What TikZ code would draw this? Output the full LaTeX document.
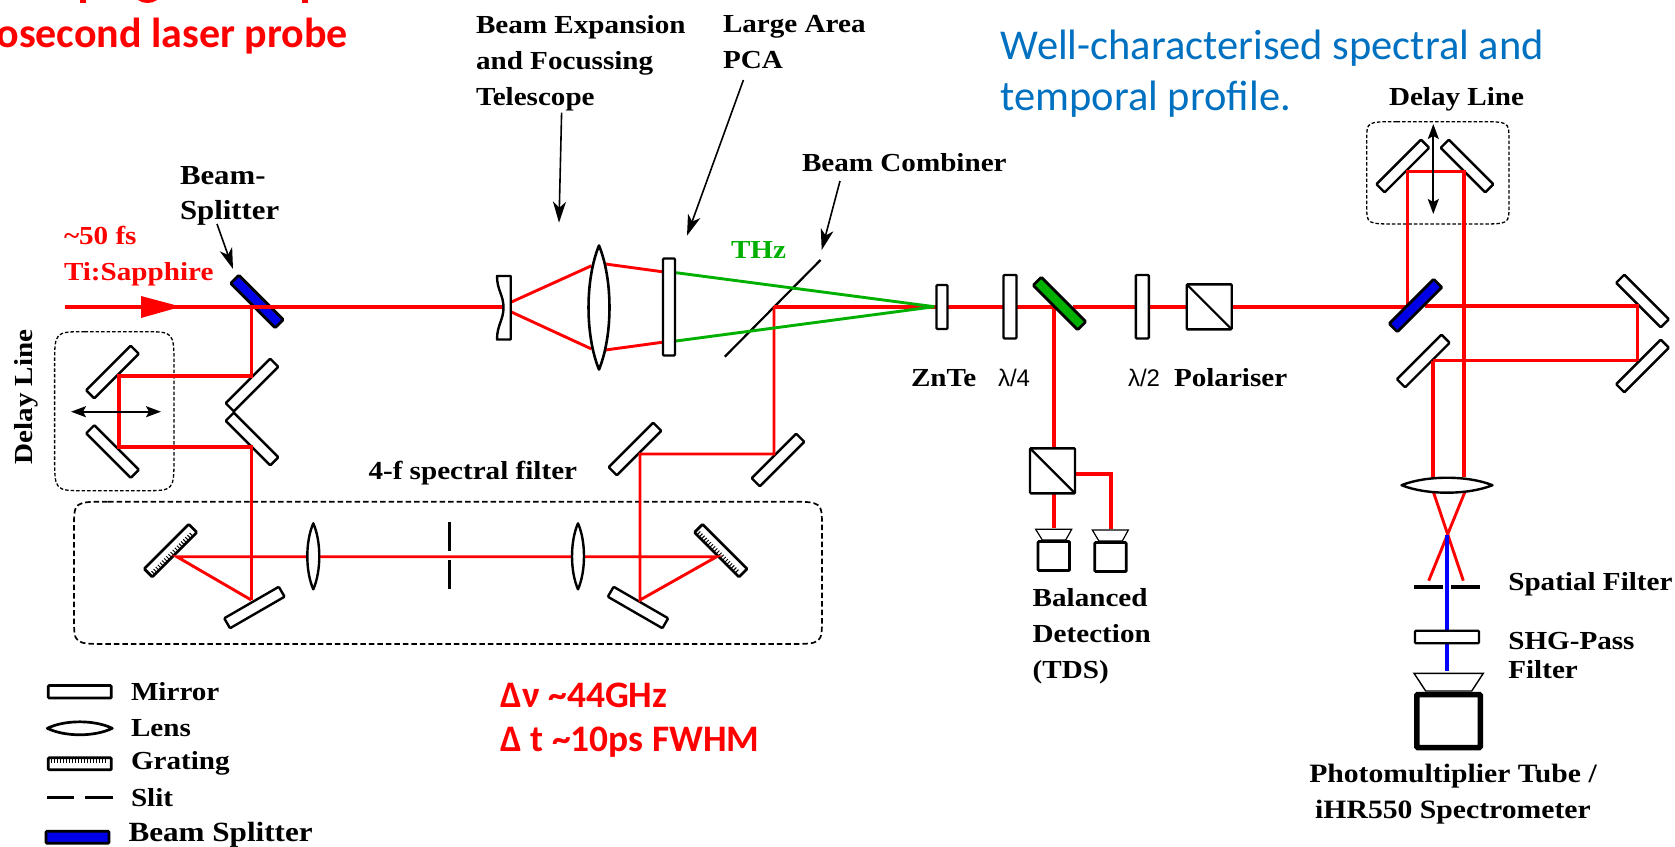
\documentclass[tikz,border=0pt]{standalone}
\usepackage{fontspec}
\usetikzlibrary{arrows.meta}
\newfontfamily\serifstretch[FakeStretch=1.12]{Liberation Serif}
\newfontfamily\carlitofam{Carlito}
\newfontfamily\arialfam{Liberation Sans}
\definecolor{beamred}{RGB}{255,0,0}
\definecolor{thzgreen}{RGB}{0,176,0}
\definecolor{bsblue}{RGB}{0,0,230}
\definecolor{noteblue}{RGB}{0,112,192}
\pgfdeclarelayer{under}
\pgfdeclarelayer{beamlayer}
\pgfsetlayers{under,beamlayer,main}
\newcommand{\lensv}[5][line width=2.4pt]{\draw[#1,fill=white,line join=round] (#2,{#3-#5}) .. controls ({#2+1.33*#4},{#3-0.45*#5}) and ({#2+1.33*#4},{#3+0.45*#5}) .. (#2,{#3+#5}) .. controls ({#2-1.33*#4},{#3+0.45*#5}) and ({#2-1.33*#4},{#3-0.45*#5}) .. cycle;}
\newcommand{\lensh}[5][line width=2.4pt]{\draw[#1,fill=white,line join=round] ({#2-#4},#3) .. controls ({#2-0.45*#4},{#3-1.33*#5}) and ({#2+0.45*#4},{#3-1.33*#5}) .. ({#2+#4},#3) .. controls ({#2+0.45*#4},{#3+1.33*#5}) and ({#2-0.45*#4},{#3+1.33*#5}) .. cycle;}
\newcommand{\softbox}[7][]{\draw[#1] ({#2+#6},#3) -- ({#4-#6},#3) .. controls (#4,#3) .. (#4,{#3+#7}) -- (#4,{#5-#7}) .. controls (#4,#5) .. ({#4-#6},#5) -- ({#2+#6},#5) .. controls (#2,#5) .. (#2,{#5-#7}) -- (#2,{#3+#7}) .. controls (#2,#3) .. cycle;}
\newcommand{\gticks}[3]{\begin{scope}[shift={(#1.center)},rotate=#2]
\foreach \t in {-28,-25,...,28} \draw[line width=1pt] (\t,{#3*5}) -- (\t,{#3*1});
\end{scope}}
\tikzset{
  mirror/.style={draw,line width=2.4pt,fill=white,rounded corners=1pt,inner sep=0pt,outer sep=0pt,minimum width=63pt,minimum height=11.5pt},
  plate/.style={draw,line width=2.4pt,fill=white,rounded corners=1pt,inner sep=0pt,outer sep=0pt},
  beam/.style={draw=beamred,line width=3.6pt,line join=miter},
  thinbeam/.style={draw=beamred,line width=2.9pt,line join=miter},
  thzbeam/.style={draw=thzgreen,line width=2.9pt},
  labtext/.style={inner sep=0pt,outer sep=0pt,anchor=base west,align=left,font=\serifstretch\fontsize{26}{36}\selectfont\bfseries},
  waveplate/.style={inner sep=0pt,outer sep=0pt,anchor=base west,font=\arialfam\fontsize{24}{26}\selectfont},
  notered/.style={inner sep=0pt,outer sep=0pt,anchor=base west,align=left,text=beamred,font=\carlitofam\fontsize{37.4}{44}\selectfont\bfseries},
  pointer/.style={line width=1.6pt,-{Stealth[length=21pt,width=13pt,inset=6pt]}},
  move/.style={line width=1.7pt,{Stealth[length=15pt,width=11pt,inset=3pt]}-{Stealth[length=15pt,width=11pt,inset=3pt]}},
}
\begin{document}
\begin{tikzpicture}[x=1pt,y=-1pt]
\useasboundingbox (0,0) rectangle (1675,846);

% ---- reflective optics and enclosures (beams are drawn over them)
\begin{pgfonlayer}{under}
\softbox[line width=1.3pt,dash pattern=on 3.5pt off 2pt]{54.6}{331.7}{174}{490.7}{30}{34}
\softbox[line width=1.3pt,dash pattern=on 3.5pt off 2pt]{1366.7}{121.7}{1509}{224}{30}{18}
\softbox[line width=1.7pt,dash pattern=on 5.5pt off 3pt]{74}{501.7}{822}{644}{34}{26}
\node[mirror,fill=bsblue,line width=2.7pt] (bsA) at (257,301.5) [rotate=-45] {};
\node[mirror] (dlA) at (112.5,372) [rotate=45] {};
\node[mirror] (dlB) at (112.5,451.5) [rotate=-45] {};
\node[mirror] (foldA) at (252,385) [rotate=45] {};
\node[mirror] (foldB) at (252,439) [rotate=-45] {};
\node[mirror,line width=2.7pt] (grA) at (170.5,550.6) [rotate=45] {};
\node[mirror,line width=2.7pt] (grB) at (720.8,550.6) [rotate=-45] {};
\gticks{grA}{45}{1}
\gticks{grB}{-45}{1}
\node[mirror] (mA) at (254.4,607.5) [rotate=30] {};
\node[mirror] (mB) at (638,607.5) [rotate=-30] {};
\node[mirror] (mC) at (635,449) [rotate=45] {};
\node[mirror] (mD) at (778,460) [rotate=45] {};
\node[mirror] (dlC) at (1402.8,166) [rotate=45] {};
\node[mirror] (dlD) at (1467,166) [rotate=-45] {};
\node[mirror] (foldC) at (1642.5,301) [rotate=-45] {};
\node[mirror] (foldD) at (1642.5,366) [rotate=45] {};
\node[mirror] (foldE) at (1423.3,361) [rotate=45] {};
\coordinate (combA) at (724.8,356.7);
\coordinate (combB) at (820.5,260);
\draw[line width=2.2pt] (combA) -- (combB);
\end{pgfonlayer}

% ---- named beam points
\coordinate (start) at (65,306.7);
\coordinate (hA) at (251.3,306.7);
\coordinate (hB) at (251.3,375.7);
\coordinate (hC) at (119,375.7);
\coordinate (hD) at (119,446.7);
\coordinate (hE) at (251.3,446.7);
\coordinate (hF) at (251.3,600);
\coordinate (hG) at (176.8,556.7);
\coordinate (hH) at (716.7,556.7);
\coordinate (hI) at (640,600);
\coordinate (hJ) at (640,454);
\coordinate (hK) at (774,454);
\coordinate (hL) at (774,306.7);
\coordinate (hM) at (1054,306.7);
\coordinate (hN) at (1054,447);
\coordinate (hO) at (1054,494);
\coordinate (hP) at (1054,527.7);
\coordinate (hQ) at (1076,473.7);
\coordinate (hR) at (1111,473.7);
\coordinate (hS) at (1111,528.7);
\coordinate (hT) at (1073,306.7);
\coordinate (hU) at (1407.3,306.7);
\coordinate (hV) at (1407.3,171.3);
\coordinate (hW) at (1464,171.3);
\coordinate (hX) at (1464,476.7);
\coordinate (hY) at (1425,306.2);
\coordinate (hZ) at (1637.3,306.2);
\coordinate (iA) at (1637.3,360.7);
\coordinate (iB) at (1432.7,360.7);
\coordinate (iC) at (1432.7,478);
\coordinate (iD) at (1433.3,491.7);
\coordinate (iE) at (1463.3,580.7);
\coordinate (iF) at (1465,491.7);
\coordinate (iG) at (1428.7,580.7);
\coordinate (iH) at (1447,535);
\coordinate (iI) at (1447,670.7);

\begin{pgfonlayer}{beamlayer}
\draw[beam] (start) -- (503,306.7);
\draw[beam] (hA) -- (hB) -- (hC) -- (hD) -- (hE) -- (hF);
\draw[thinbeam] (hF) -- (hG) -- (hH) -- (hI) -- (hJ) -- (hK) -- (hL);
\draw[beam] (hL) -- (936,306.7);
\draw[beam] (936,306.7) -- (hM) -- (hN);
\draw[beam] (hO) -- (hP);
\draw[beam] (hQ) -- (hR) -- (hS);
\draw[beam] (hT) -- (hU) -- (hV) -- (hW) -- (hX);
\draw[beam] (hY) -- (hZ) -- (iA);
\draw[thinbeam] (iA) -- (iB);
\draw[beam] (iB) -- (iC);
\draw[thinbeam] (iD) -- (iE);
\draw[thinbeam] (iF) -- (iG);
\draw[draw=blue,line width=3.6pt] (iH) -- (iI);
\draw[thinbeam] (511.4,302) -- (591.6,265.7);
\draw[thinbeam] (511.4,312) -- (591.6,349);
\draw[thinbeam] (605.5,264) -- (662,271.7);
\draw[thinbeam] (605.5,350) -- (662,342.3);
\draw[thzbeam] (676,272.7) -- (934.3,306.7);
\draw[thzbeam] (676,341) -- (934.3,306.7);
\fill[beamred] (141,296) -- (181,306.7) -- (141,318) -- cycle;
\end{pgfonlayer}

% ---- transmissive and beam-splitting optics (over the beams)
\draw[line width=2.4pt,fill=white,line join=round] (497,276) -- (510.7,276) -- (510.7,339.5) -- (497,339.5) .. controls (497,325) and (503.5,320) .. (503.5,307.5) .. controls (503.5,295) and (497,290) .. (497,276) -- cycle;
\lensv[line width=2.6pt]{599}{307.5}{10.5}{62}
\node[plate,minimum width=12pt,minimum height=97pt] (pca) at (669,307) {};
\node[plate,minimum width=11pt,minimum height=44pt] (znte) at (942,307) {};
\node[plate,minimum width=13pt,minimum height=63.5pt] (qwp) at (1010,306.7) {};
\node[plate,minimum width=13pt,minimum height=63.5pt] (hwp) at (1142.3,306.7) {};
\node[mirror,fill=thzgreen,line width=2.7pt] (bsB) at (1059.5,303.5) [rotate=-45] {};
\node[mirror,fill=bsblue,line width=2.7pt] (bsC) at (1415.5,305.5) [rotate=45] {};
\node[plate,minimum width=45pt,minimum height=45pt] (polA) at (1209.2,306.8) {};
\draw[line width=2.2pt] (polA.north west) -- (polA.south east);
\node[plate,minimum width=45pt,minimum height=45pt] (polB) at (1052.5,470.8) {};
\draw[line width=2.2pt] (polB.north west) -- (polB.south east);
\lensv{313.3}{556.3}{6}{33}
\lensv{578}{556.3}{6}{33}
\lensh{1447}{485.2}{45.5}{7.5}
\coordinate (sA) at (449,522); \coordinate (sB) at (449,550.7);
\coordinate (sC) at (449,560); \coordinate (sD) at (449,589);
\draw[line width=3pt] (sA) -- (sB) (sC) -- (sD);

% ---- balanced detectors
\draw[line width=1.2pt,fill=white] (1035.7,529.3) -- (1071.7,529.3) -- (1065.7,540) -- (1042.3,540) -- cycle;
\node[plate,line width=2.8pt,minimum width=31.5pt,minimum height=29pt] (detA) at (1053.8,556) {};
\draw[line width=1.2pt,fill=white] (1092.3,530) -- (1128.3,530) -- (1122.3,541) -- (1098.9,541) -- cycle;
\node[plate,line width=2.8pt,minimum width=31.5pt,minimum height=29pt] (detB) at (1110.5,557) {};

% ---- spectrometer arm
\coordinate (fA) at (1414,587); \coordinate (fB) at (1442.7,587);
\coordinate (fC) at (1451,587); \coordinate (fD) at (1480,587);
\draw[line width=3.5pt] (fA) -- (fB) (fC) -- (fD);
\node[plate,minimum width=64pt,minimum height=12.5pt] (shg) at (1447,637) {};
\draw[line width=1.4pt,fill=white] (1414,673.3) -- (1483.3,673.3) -- (1471.7,691) -- (1425.7,691) -- cycle;
\node[plate,line width=5.5pt,minimum width=63.5pt,minimum height=53pt] (pmt) at (1448.5,721) {};

% ---- pointers and motion arrows
\coordinate (pA) at (217,224); \coordinate (pB) at (233,269);
\draw[pointer] (pA) -- (pB);
\coordinate (pC) at (561.6,112.7); \coordinate (pD) at (559,222.7);
\draw[pointer] (pC) -- (pD);
\coordinate (pE) at (743.4,80); \coordinate (pF) at (687,235.7);
\draw[pointer] (pE) -- (pF);
\coordinate (pG) at (840,181); \coordinate (pH) at (821.7,250);
\draw[pointer] (pG) -- (pH);
\coordinate (mvA) at (71,411.7); \coordinate (mvB) at (161,411.7);
\draw[move] (mvA) -- (mvB);
\coordinate (mvC) at (1433.3,124); \coordinate (mvD) at (1433.3,214);
\draw[move] (mvC) -- (mvD);

% ---- labels
\node[labtext,font=\serifstretch\fontsize{27.5}{34.5}\selectfont\bfseries] (tBS) at (180,219) {Beam-\\Splitter};
\node[labtext,text=beamred] (tTi) at (64,280) {\textasciitilde50 fs\\Ti:Sapphire};
\node[labtext,rotate=90,anchor=base] (tDLa) at (32,397) {Delay Line};
\node[labtext] (tBE) at (476,105) {Beam Expansion\\and Focussing\\Telescope};
\node[labtext] (tPCA) at (723,68) {Large Area\\PCA};
\node[labtext] (tBC) at (802,171) {Beam Combiner};
\node[labtext,text=thzgreen] (tTHz) at (731,258) {THz};
\node[labtext] (tZn) at (911,386.7) {ZnTe};
\node[waveplate] (tq) at (998,386.7) {λ/4};
\node[waveplate] (th) at (1128,386.7) {λ/2};
\node[labtext] (tPol) at (1174,386.7) {Polariser};
\node[labtext] (tBal) at (1032.7,678) {Balanced\\Detection\\(TDS)};
\node[labtext] (tDLb) at (1389,105) {Delay Line};
\node[labtext] (tSF) at (1508.3,590) {Spatial Filter};
\node[labtext,font=\serifstretch\fontsize{26}{29}\selectfont\bfseries] (tSHG) at (1508.3,678) {SHG-Pass\\Filter};
\node[labtext,align=center,anchor=base,font=\serifstretch\fontsize{26.5}{36}\selectfont\bfseries] (tPM) at (1453,818) {Photomultiplier Tube /\\iHR550 Spectrometer};
\node[labtext] (t4f) at (368.5,479.3) {4-f spectral filter};
\node[notered] (tNu) at (500.8,751) {Δν \textasciitilde44GHz\\Δ t \textasciitilde10ps FWHM};
\node[inner sep=0pt,outer sep=0pt,anchor=base west,align=left,text=noteblue,font=\carlitofam\fontsize{42.5}{51}\selectfont] (tWC) at (1000.7,110) {Well-characterised spectral and\\temporal profile.};
\node[inner sep=0pt,outer sep=0pt,anchor=base east,text=beamred,font=\carlitofam\fontsize{42}{46}\selectfont\bfseries] (tHead) at (348,47.7) {osecond laser probe};
\fill[beamred] (80,0) rectangle (86,3);
\fill[beamred] (138,0) .. controls (143,4) and (152,4) .. (157,0) -- cycle;
\fill[beamred] (302,0) rectangle (308,3);

% ---- legend
\node[plate,line width=2.7pt,minimum width=63pt,minimum height=12.5pt] (lgM) at (79.8,691.8) {};
\lensh[line width=2.7pt]{79.8}{728.3}{32.5}{6.5}
\node[plate,line width=2.7pt,minimum width=63pt,minimum height=12pt] (lgG) at (79.8,763.8) {};
\gticks{lgG}{0}{-1}
\coordinate (lsA) at (47,797.7); \coordinate (lsB) at (74,797.7);
\coordinate (lsC) at (84.5,797.7); \coordinate (lsD) at (112.5,797.7);
\draw[line width=3.5pt] (lsA) -- (lsB) (lsC) -- (lsD);
\node[plate,fill=bsblue,line width=2.7pt,minimum width=63pt,minimum height=12pt] (lgB) at (77.5,837.2) {};
\node[labtext] (lM) at (131,700) {Mirror};
\node[labtext] (lL) at (131,736) {Lens};
\node[labtext] (lG) at (131,769.3) {Grating};
\node[labtext] (lS) at (131,806) {Slit};
\node[labtext,font=\serifstretch\fontsize{27.8}{36}\selectfont\bfseries] (lB) at (128.5,841.7) {Beam Splitter};
\end{tikzpicture}
\end{document}
